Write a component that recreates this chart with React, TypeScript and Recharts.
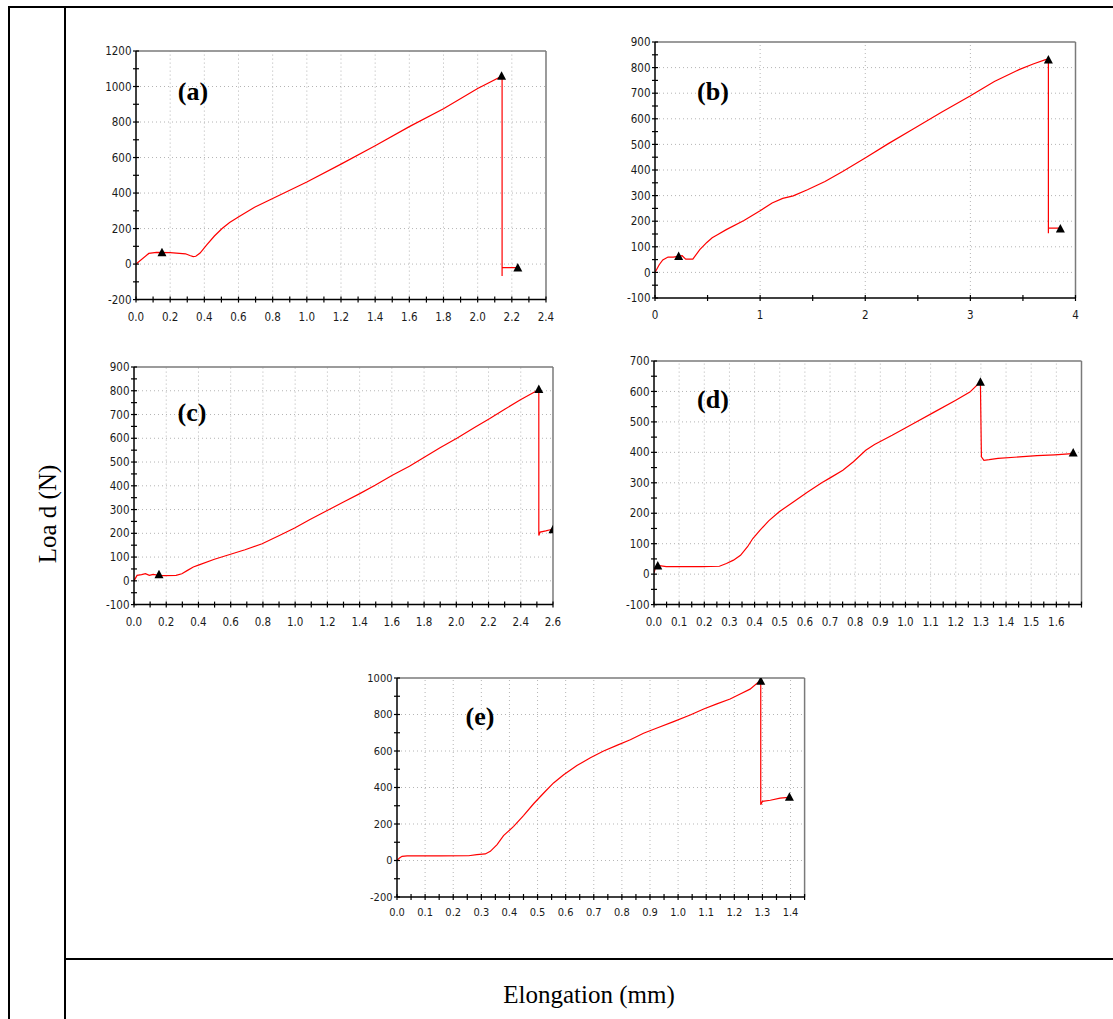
import React from 'react';
import { ComposedChart, Line, Scatter, XAxis, YAxis, ReferenceLine } from 'recharts';

type Pt = [number, number];

// ---------- data (elongation mm, load N) ----------
const curveA: Pt[] = [
  [0, 0], [0.075, 60], [0.12, 66], [0.2, 64], [0.29, 58], [0.315, 48], [0.335, 42], [0.35, 44],
  [0.375, 62], [0.414, 108], [0.459, 158], [0.504, 200], [0.548, 234], [0.604, 268], [0.694, 320],
  [0.8, 369], [1.0, 462], [1.2, 563], [1.4, 666], [1.6, 774], [1.8, 875], [2.0, 989], [2.135, 1055],
  [2.143, 1050], [2.143, -67], [2.143, -20], [2.23, -20],
];
const markersA: Pt[] = [[0.152, 64], [2.14, 1058], [2.235, -22]];

const curveB: Pt[] = [
  [0, 0], [0.04, 30], [0.074, 49], [0.124, 60], [0.174, 60], [0.258, 65], [0.292, 52], [0.36, 52],
  [0.426, 89], [0.493, 117], [0.544, 135], [0.594, 147], [0.678, 167], [0.846, 203], [1.0, 241],
  [1.114, 271], [1.215, 289], [1.315, 299], [1.45, 323], [1.617, 355], [1.785, 394], [2.007, 449],
  [2.22, 503], [2.456, 560], [2.725, 626], [2.993, 688], [3.228, 746], [3.463, 792], [3.597, 814],
  [3.715, 831], [3.742, 833], [3.742, 153], [3.742, 173], [3.866, 173],
];
const markersB: Pt[] = [[0.225, 62], [3.742, 830], [3.856, 170]];

const curveC: Pt[] = [
  [0, 0], [0.019, 23], [0.047, 26], [0.071, 30], [0.095, 23], [0.119, 27], [0.154, 23], [0.19, 22],
  [0.261, 23], [0.297, 30], [0.332, 44], [0.368, 58], [0.404, 67], [0.499, 91], [0.594, 111],
  [0.689, 131], [0.795, 156], [0.902, 191], [0.997, 222], [1.092, 258], [1.199, 296], [1.306, 334],
  [1.401, 367], [1.496, 402], [1.603, 444], [1.709, 482], [1.804, 521], [1.899, 560], [2.006, 601],
  [2.113, 645], [2.208, 683], [2.303, 723], [2.398, 762], [2.505, 802], [2.512, 806], [2.512, 191],
  [2.52, 205], [2.555, 210], [2.59, 216],
];
const markersC: Pt[] = [[0.155, 26], [2.512, 805], [2.6, 215]];

const curveD: Pt[] = [
  [0, 4], [0.007, 24], [0.021, 28], [0.049, 25], [0.119, 25], [0.19, 25], [0.26, 26], [0.288, 35],
  [0.316, 46], [0.344, 62], [0.372, 90], [0.393, 117], [0.421, 144], [0.456, 175], [0.498, 205],
  [0.554, 237], [0.611, 270], [0.667, 300], [0.702, 317], [0.751, 341], [0.793, 369], [0.842, 407],
  [0.877, 426], [0.947, 456], [1.032, 495], [1.116, 533], [1.2, 571], [1.256, 598], [1.291, 626],
  [1.298, 628], [1.302, 385], [1.312, 374], [1.333, 376], [1.368, 380], [1.453, 385], [1.523, 389],
  [1.593, 392], [1.663, 396],
];
const markersD: Pt[] = [[0.015, 27], [1.298, 630], [1.667, 398]];

const curveE: Pt[] = [
  [0, 0], [0.009, 14], [0.018, 23], [0.036, 25], [0.095, 25], [0.154, 25], [0.255, 26], [0.284, 32],
  [0.314, 36], [0.332, 50], [0.356, 87], [0.379, 136], [0.415, 187], [0.45, 246], [0.486, 311],
  [0.522, 370], [0.557, 425], [0.593, 470], [0.64, 520], [0.688, 563], [0.735, 600], [0.782, 631],
  [0.83, 662], [0.877, 697], [0.925, 726], [0.984, 761], [1.043, 797], [1.091, 830], [1.138, 858],
  [1.185, 885], [1.221, 912], [1.256, 939], [1.286, 978], [1.294, 980], [1.294, 306], [1.3, 324],
  [1.328, 330], [1.363, 342], [1.393, 346],
];
const markersE: Pt[] = [[1.294, 982], [1.396, 347]];

// ---------- tick labels ----------
const xLabelsA = [0, 0.2, 0.4, 0.6, 0.8, 1.0, 1.2, 1.4, 1.6, 1.8, 2.0, 2.2, 2.4];
const yLabelsA = [-200, 0, 200, 400, 600, 800, 1000, 1200];
const xLabelsB = [0, 1, 2, 3, 4];
const yLabelsB = [-100, 0, 100, 200, 300, 400, 500, 600, 700, 800, 900];
const xLabelsC = [0, 0.2, 0.4, 0.6, 0.8, 1.0, 1.2, 1.4, 1.6, 1.8, 2.0, 2.2, 2.4, 2.6];
const yLabelsC = [-100, 0, 100, 200, 300, 400, 500, 600, 700, 800, 900];
const xLabelsD = [0, 0.1, 0.2, 0.3, 0.4, 0.5, 0.6, 0.7, 0.8, 0.9, 1.0, 1.1, 1.2, 1.3, 1.4, 1.5, 1.6];
const yLabelsD = [-100, 0, 100, 200, 300, 400, 500, 600, 700];
const xLabelsE = [0, 0.1, 0.2, 0.3, 0.4, 0.5, 0.6, 0.7, 0.8, 0.9, 1.0, 1.1, 1.2, 1.3, 1.4];
const yLabelsE = [-200, 0, 200, 400, 600, 800, 1000];

const steps = (lo: number, hi: number, step: number) => {
  const n = Math.round((hi - lo) / step);
  return Array.from({ length: n + 1 }, (_, i) => +(lo + i * step).toFixed(4));
};
const toObj = (pts: Pt[]) => pts.map(([x, y]) => ({ x, y }));
const has = (arr: number[], v: number) => arr.some((m) => Math.abs(m - v) < 1e-6);

const tickFont: React.CSSProperties = {
  fontFamily: "'DejaVu Sans Condensed', 'DejaVu Sans', sans-serif",
  fontStretch: 'condensed',
};

type PanelCfg = {
  tag: string; tagX: number; tagY: number;
  left: number; top: number; w: number; h: number;
  xDomain: [number, number]; yDomain: [number, number];
  xLabels: number[]; yLabels: number[]; xStep: number; yStep: number;
  xDec: number; fs: number; xdy: number;
  curve: Pt[]; markers: Pt[];
};

const PANELS: PanelCfg[] = [
  { tag: '(a)', tagX: 193, tagY: 92, left: 136, top: 50.7, w: 410, h: 248.6, xDomain: [0, 2.4], yDomain: [-200, 1200],
    xLabels: xLabelsA, yLabels: yLabelsA, xStep: 0.1, yStep: 100, xDec: 1, fs: 11.5, xdy: 21, curve: curveA, markers: markersA },
  { tag: '(b)', tagX: 713, tagY: 92, left: 654.5, top: 42.3, w: 420.5, h: 256, xDomain: [0, 4], yDomain: [-100, 900],
    xLabels: xLabelsB, yLabels: yLabelsB, xStep: 0.5, yStep: 50, xDec: 0, fs: 11.5, xdy: 21, curve: curveB, markers: markersB },
  { tag: '(c)', tagX: 192, tagY: 413, left: 134, top: 366.7, w: 419, h: 237.6, xDomain: [0, 2.6], yDomain: [-100, 900],
    xLabels: xLabelsC, yLabels: yLabelsC, xStep: 0.1, yStep: 50, xDec: 1, fs: 11.5, xdy: 21, curve: curveC, markers: markersC },
  { tag: '(d)', tagX: 713, tagY: 400, left: 653.5, top: 360.7, w: 427.5, h: 243.6, xDomain: [0, 1.7], yDomain: [-100, 700],
    xLabels: xLabelsD, yLabels: yLabelsD, xStep: 0.05, yStep: 50, xDec: 1, fs: 11.5, xdy: 21.5, curve: curveD, markers: markersD },
  { tag: '(e)', tagX: 480, tagY: 717, left: 396.7, top: 678.3, w: 407.6, h: 219, xDomain: [0, 1.45], yDomain: [-200, 1000],
    xLabels: xLabelsE, yLabels: yLabelsE, xStep: 0.05, yStep: 100, xDec: 1, fs: 11, xdy: 19.5, curve: curveE, markers: markersE },
];

const Triangle = (props: any) => {
  const { cx, cy } = props;
  if (cx == null || cy == null) return null;
  return <polygon points={`${cx},${cy - 5} ${cx - 4.5},${cy + 3.5} ${cx + 4.5},${cy + 3.5}`} fill="#000" />;
};

const GRID = { stroke: '#b4b4b4', strokeDasharray: '1 3', strokeWidth: 1 };
const BORDER = '#7a7a7a';

function Panel({ p }: { p: PanelCfg }) {
  const ML = 50, MT = 10, MR = 14, MB = 30;
  const xTicks = steps(p.xDomain[0], p.xDomain[1], p.xStep);
  const yTicks = steps(p.yDomain[0], p.yDomain[1], p.yStep);
  const vGrid = p.xLabels.filter((v) => v > p.xDomain[0] && v < p.xDomain[1]);
  const hGrid = p.yLabels.filter((v) => v > p.yDomain[0] && v < p.yDomain[1]);

  const xTick = (props: any) => {
    const { x, y, payload } = props;
    const v = payload.value as number;
    return (
      <g>
        <line x1={x} x2={x} y1={y - 3} y2={y + 3} stroke="#000" strokeWidth={1.2} />
        {has(p.xLabels, v) && (
          <text x={x} y={y + p.xdy} textAnchor="middle" fontSize={p.fs} fill="#1a1a1a" style={tickFont}>
            {v.toFixed(p.xDec)}
          </text>
        )}
      </g>
    );
  };
  const yTick = (props: any) => {
    const { x, y, payload } = props;
    const v = payload.value as number;
    return (
      <g>
        <line x1={x - 3} x2={x + 3} y1={y} y2={y} stroke="#000" strokeWidth={1.2} />
        {has(p.yLabels, v) && (
          <text x={x - 4.5} y={y} dy="0.36em" textAnchor="end" fontSize={p.fs} fill="#1a1a1a" style={tickFont}>
            {String(v)}
          </text>
        )}
      </g>
    );
  };

  return (
    <div style={{ position: 'absolute', left: p.left - ML, top: p.top - MT }}>
      <ComposedChart
        width={p.w + ML + MR}
        height={p.h + MT + MB}
        margin={{ top: MT, right: MR, bottom: 0, left: 0 }}
        style={{ overflow: 'visible' }}
      >
        <XAxis
          type="number"
          dataKey="x"
          domain={p.xDomain}
          ticks={xTicks}
          interval={0}
          tickSize={0}
          tickMargin={0}
          tickLine={false}
          axisLine={{ stroke: '#000', strokeWidth: 1.5 }}
          tick={xTick}
          height={MB}
          allowDataOverflow
        />
        <YAxis
          type="number"
          dataKey="y"
          domain={p.yDomain}
          ticks={yTicks}
          interval={0}
          tickSize={0}
          tickMargin={0}
          tickLine={false}
          axisLine={{ stroke: '#000', strokeWidth: 1.5 }}
          tick={yTick}
          width={ML}
          allowDataOverflow
        />
        {vGrid.map((v) => (
          <ReferenceLine key={'v' + v} x={v} {...GRID} />
        ))}
        {hGrid.map((v) => (
          <ReferenceLine key={'h' + v} y={v} {...GRID} />
        ))}
        <ReferenceLine x={p.xDomain[1]} stroke={BORDER} strokeWidth={1.5} />
        <ReferenceLine y={p.yDomain[1]} stroke={BORDER} strokeWidth={1.5} />
        <Line
          data={toObj(p.curve)}
          dataKey="y"
          type="linear"
          stroke="#ff0000"
          strokeWidth={1.2}
          dot={false}
          activeDot={false}
          isAnimationActive={false}
        />
        <Scatter data={toObj(p.markers)} dataKey="y" shape={Triangle} isAnimationActive={false} />
      </ComposedChart>
    </div>
  );
}

const serif = "'Liberation Serif', 'Times New Roman', 'DejaVu Serif', serif";

export default function App() {
  const line = (s: React.CSSProperties) => <div style={{ position: 'absolute', background: '#000', ...s }} />;
  return (
    <div style={{ position: 'absolute', left: 0, top: 0, width: 1113, height: 1019, background: '#fff', overflow: 'hidden' }}>
      {line({ left: 8, top: 6, width: 1105, height: 2 })}
      {line({ left: 8, top: 6, width: 2, height: 1013 })}
      {line({ left: 64, top: 6, width: 2, height: 1013 })}
      {line({ left: 64, top: 958, width: 1049, height: 2 })}

      {PANELS.map((p) => (
        <Panel key={p.tag} p={p} />
      ))}

      {PANELS.map((p) => (
        <div
          key={'t' + p.tag}
          style={{
            position: 'absolute', left: p.tagX, top: p.tagY, transform: 'translate(-50%, -50%)',
            fontFamily: serif, fontWeight: 'bold', fontSize: 26, lineHeight: 1, whiteSpace: 'nowrap', color: '#000',
          }}
        >
          {p.tag}
        </div>
      ))}

      <div
        style={{
          position: 'absolute', left: 46.5, top: 514, transform: 'translate(-50%, -50%) rotate(-90deg)',
          fontFamily: serif, fontSize: 25, lineHeight: 1, whiteSpace: 'nowrap', color: '#000',
        }}
      >
        Loa d (N)
      </div>
      <div
        style={{
          position: 'absolute', left: 589, top: 994, transform: 'translate(-50%, -50%)',
          fontFamily: serif, fontSize: 25, lineHeight: 1, whiteSpace: 'nowrap', color: '#000',
        }}
      >
        Elongation (mm)
      </div>
    </div>
  );
}
